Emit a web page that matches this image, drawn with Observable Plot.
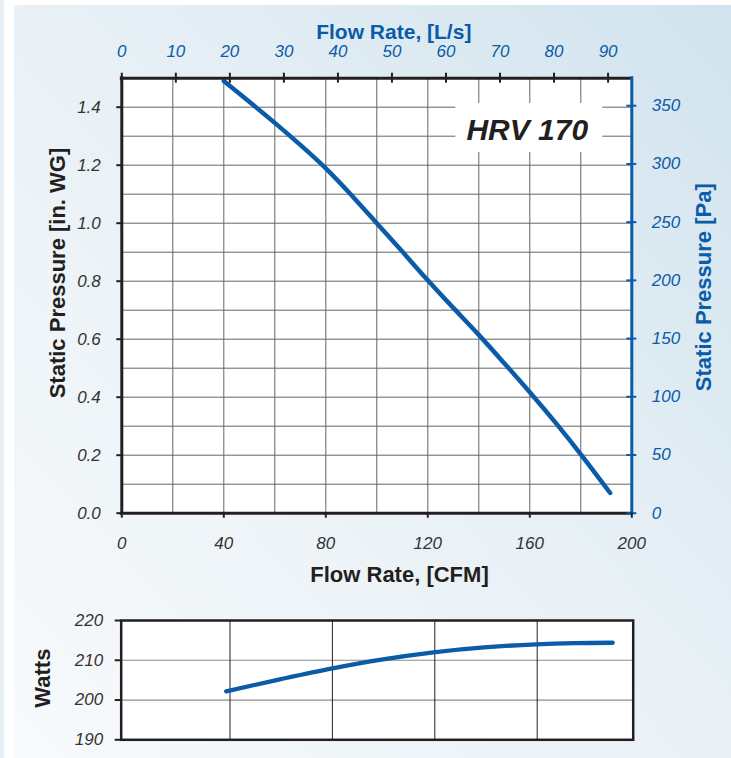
<!DOCTYPE html>
<html><head><meta charset="utf-8">
<script src="https://cdn.jsdelivr.net/npm/d3@7"></script>
<script src="https://cdn.jsdelivr.net/npm/@observablehq/plot@0.6"></script>
<style>
html,body{margin:0;padding:0;background:#fff;}
#wrap{position:relative;width:731px;height:758px;overflow:hidden;background:#fff;font-family:"Liberation Sans",Arial,sans-serif;}
#strip{position:absolute;left:0;top:0;width:4px;height:758px;background:#e8f0f6;}
#panel{position:absolute;left:14px;top:5px;width:717px;height:753px;background:linear-gradient(to top right,#f8fafc 0%,#e9f1f6 50%,#d1e3ee 100%);}
#main,#watts{position:absolute;left:0;}
#main{top:0;}
#watts{top:600px;}
</style></head><body>
<div id="wrap"><div id="strip"></div><div id="panel"></div><div id="main"></div><div id="watts"></div></div>
<script>
// Fan curve: static pressure vs flow
const flowCFM = [40, 50, 60, 70, 80, 90, 100, 110, 120, 130, 140, 150, 160, 170, 180, 191.5];
const pressureInWG = [1.49, 1.419, 1.346, 1.27, 1.189, 1.097, 1.0, 0.902, 0.803, 0.708, 0.615, 0.517, 0.417, 0.313, 0.203, 0.07];
// Power curve
const wattFlowCFM = [41, 62, 82, 101, 122, 143, 162, 177, 192];
const watts = [202.2, 205.2, 207.9, 210.1, 212.0, 213.3, 214.0, 214.3, 214.4];
// Ticks and grids
const cfmTicks = [0, 40, 80, 120, 160, 200];
const cfmGrid = [20, 40, 60, 80, 100, 120, 140, 160, 180];
const inwgTicks = [0, 0.2, 0.4, 0.6, 0.8, 1.0, 1.2, 1.4];
const inwgGrid = [0.1, 0.2, 0.3, 0.4, 0.5, 0.6, 0.7, 0.8, 0.9, 1.0, 1.1, 1.2, 1.3, 1.4];
const lpsTicks = [0, 10, 20, 30, 40, 50, 60, 70, 80, 90];
const paTicks = [0, 50, 100, 150, 200, 250, 300, 350];
const wattTicks = [190, 200, 210, 220];
const wattGridFlow = [42.5, 82.5, 122.5, 162.5];
const wattGridLevels = [200, 210];
const modelName = "HRV 170";
const modelLabel = {x: 159, y: 1.32};
const modelBox = {x1: 131, x2: 188.6, y1: 1.244, y2: 1.413};
const CFM_PER_LPS = 2.11888;
const PA_PER_INWG = 249.089;

const BLUE = "#0a5ba8", INK = "#231f20", TICKTXT = "#333333";
const FONT = "'Liberation Sans', Arial, sans-serif";

const curve = flowCFM.map((x, i) => ({x, y: pressureInWG[i]}));
const wattCurve = wattFlowCFM.map((x, i) => ({x, y: watts[i]}));

const main = Plot.plot({
  width: 731, height: 600,
  marginLeft: 121.3, marginRight: 99.7, marginTop: 77.7, marginBottom: 87.3,
  x: {domain: [0, 200]},
  y: {domain: [0, 1.5]},
  style: {background: "transparent", fontFamily: FONT, overflow: "visible"},
  marks: [
    Plot.frame({fill: "white"}),
    Plot.gridX(cfmGrid, {stroke: "#666666", strokeOpacity: 1, strokeWidth: 1}),
    Plot.gridY(inwgGrid, {stroke: "#666666", strokeOpacity: 1, strokeWidth: 1}),
    Plot.rect([modelBox], {x1: "x1", x2: "x2", y1: "y1", y2: "y2", fill: "white"}),
    Plot.text([{...modelLabel, text: modelName}], {x: "x", y: "y", text: "text", fontSize: 30, fontWeight: "bold", fontStyle: "italic", fill: INK}),
    Plot.line(curve, {x: "x", y: "y", stroke: BLUE, strokeWidth: 4.5, curve: "natural", strokeLinecap: "round"}),
    Plot.ruleY([0], {stroke: INK, strokeWidth: 3, strokeLinecap: "square"}),
    Plot.ruleY([1.5], {stroke: INK, strokeWidth: 3, strokeLinecap: "square"}),
    Plot.ruleX([0], {stroke: INK, strokeWidth: 3, strokeLinecap: "square"}),
    Plot.ruleX([200], {stroke: BLUE, strokeWidth: 3, strokeLinecap: "square"}),
    // crossing ticks, top (L/s) and right (Pa)
    Plot.ruleX(lpsTicks.map(v => v * CFM_PER_LPS), {x: d => d, y1: 1.5, y2: 1.5, insetTop: -5, insetBottom: -5, stroke: INK, strokeWidth: 2}),
    Plot.ruleY(paTicks.map(p => p / PA_PER_INWG), {y: d => d, x1: 200, x2: 200, insetLeft: -5, insetRight: -5, stroke: BLUE, strokeWidth: 2}),
    Plot.axisY(inwgTicks, {anchor: "left", tickSize: 5, tickPadding: 16, stroke: INK, strokeWidth: 2, fill: TICKTXT, fontSize: 17, fontStyle: "italic", tickFormat: d => d.toFixed(1), label: null}),
    Plot.axisX(cfmTicks, {anchor: "bottom", tickSize: 5, tickPadding: 19, stroke: INK, strokeWidth: 2, fill: TICKTXT, fontSize: 17, fontStyle: "italic", tickFormat: d => String(d), label: null}),
    Plot.axisX(lpsTicks.map(v => v * CFM_PER_LPS), {anchor: "top", tickSize: 0, tickPadding: 21.2, fill: BLUE, fontSize: 17, fontStyle: "italic", tickFormat: d => String(Math.round(d / CFM_PER_LPS)), label: null}),
    Plot.axisY(paTicks.map(p => p / PA_PER_INWG), {anchor: "right", tickSize: 0, tickPadding: 20, fill: BLUE, fontSize: 17, fontStyle: "italic", tickFormat: d => String(Math.round(d * PA_PER_INWG)), label: null}),
    Plot.text(["Flow Rate, [L/s]"], {text: d => d, frameAnchor: "top", textAnchor: "middle", dx: 17, dy: -39.5, lineAnchor: "bottom", fill: BLUE, fontWeight: "bold", fontSize: 21}),
    Plot.text(["Flow Rate, [CFM]"], {text: d => d, frameAnchor: "bottom", textAnchor: "middle", dx: 22.7, dy: 68.3, lineAnchor: "bottom", fill: INK, fontWeight: "bold", fontSize: 22}),
    Plot.text(["Static Pressure [in. WG]"], {text: d => d, frameAnchor: "left", textAnchor: "middle", rotate: -90, dx: -64.3, dy: -22.7, fill: INK, fontWeight: "bold", fontSize: 22}),
    Plot.text(["Static Pressure [Pa]"], {text: d => d, frameAnchor: "right", textAnchor: "middle", rotate: -90, dx: 71.7, dy: -8.5, fill: BLUE, fontWeight: "bold", fontSize: 22})
  ]
});
document.getElementById("main").appendChild(main);

const wattsPlot = Plot.plot({
  width: 731, height: 158,
  marginLeft: 120.7, marginRight: 98.3, marginTop: 20, marginBottom: 18.7,
  x: {domain: [0, 200], axis: null},
  y: {domain: [190, 220]},
  style: {background: "transparent", fontFamily: FONT, overflow: "visible"},
  marks: [
    Plot.frame({fill: "white"}),
    Plot.gridY(wattGridLevels, {stroke: "#8c8c8c", strokeOpacity: 1, strokeWidth: 1.2}),
    Plot.gridX(wattGridFlow, {stroke: INK, strokeOpacity: 1, strokeWidth: 1}),
    Plot.line(wattCurve, {x: "x", y: "y", stroke: BLUE, strokeWidth: 4.3, curve: "monotone-x", strokeLinecap: "round"}),
    Plot.frame({stroke: INK, strokeWidth: 2.5}),
    Plot.axisY(wattTicks, {anchor: "left", tickSize: 6, tickPadding: 12, stroke: INK, strokeWidth: 2, fill: TICKTXT, fontSize: 17, fontStyle: "italic", label: null}),
    Plot.text(["Watts"], {text: d => d, frameAnchor: "left", textAnchor: "middle", rotate: -90, dx: -78.7, dy: -2, fill: INK, fontWeight: "bold", fontSize: 22})
  ]
});
document.getElementById("watts").appendChild(wattsPlot);
</script></body></html>
